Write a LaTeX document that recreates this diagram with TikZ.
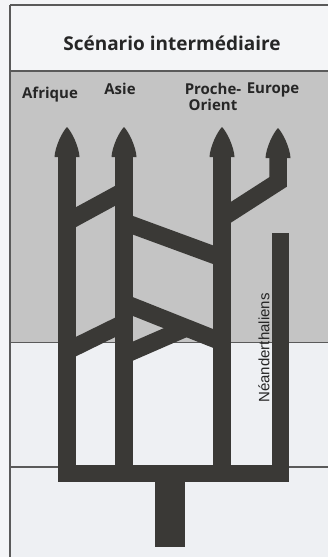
\documentclass[tikz,border=0pt]{standalone}
\usepackage{fontspec}
\setmainfont{Open Sans}
\newfontfamily\sidefont{Liberation Sans}
\usepackage{tikz}
\usetikzlibrary{positioning}
\definecolor{paper}{HTML}{F4F5F7}
\definecolor{speckle}{HTML}{C4C4C4}
\definecolor{lowfield}{HTML}{EEF0F3}
\definecolor{trunk}{HTML}{3A3936}
\definecolor{rule}{HTML}{5A5A5A}
\tikzset{
  lineage/.style={draw=trunk, line width=17.5pt, line cap=butt, line join=miter},
  framerule/.style={draw=rule, line width=1.3pt},
  headline/.style={font=\bfseries\fontsize{19}{22}\selectfont, text=black!85, inner sep=0pt},
  place/.style={font=\bfseries\fontsize{15}{16}\selectfont, text=black!85, inner sep=0pt, align=center},
  sidetag/.style={font=\sidefont\fontsize{15}{15}\selectfont, text=black!85, inner sep=0pt, rotate=90},
  head/.pic={
    \fill[trunk] (-12.5,0) .. controls (-12,-10) and (-5,-25) .. (0,-30)
                 .. controls (5,-25) and (12,-10) .. (12.5,0) -- cycle;
  }
}

\begin{document}
\begin{tikzpicture}[x=1pt,y=-1pt]
  \useasboundingbox[fill=paper] (0,0) rectangle (328,557);

  % background bands
  \fill[speckle]  (10,71)  rectangle (328,342);
  \fill[lowfield] (10,342) rectangle (328,557);
  \draw[framerule] (10,5) -- (328,5);
  \draw[framerule] (10,5) -- (10,557);
  \draw[framerule, line width=2pt] (10,71) -- (328,71);
  \draw[framerule, line width=0.8pt] (10,342) -- (328,342);
  \draw[framerule] (10,467) -- (328,467);

  \node[headline] (title) at (172,43) {Scénario intermédiaire};

  % column positions
  \coordinate (afr) at (67,157);
  \coordinate (asi) at (124,157);
  \coordinate (pro) at (222,157);
  \coordinate (eur) at (278,158);
  \coordinate (nea) at (280.5,233);

  % trunk, base bar and Neanderthal line
  \fill[trunk] (155,480) rectangle (185,547);
  \draw[lineage] (afr) -- (67,473.5) -- (280.5,473.5) -- (nea);
  \draw[lineage] (asi) -- (124,473.5);
  \draw[lineage] (pro) -- (222,473.5);
  \draw[lineage] (eur) -- (278,182) -- (222,218);

  % exchanges between lines
  \draw[lineage] (67,222) -- (124,191);
  \draw[lineage] (124,222) -- (222,258);
  \draw[lineage] (67,351) -- (124,323);
  \draw[lineage] (124,303) -- (222,342);
  \draw[lineage] (124,355) -- (186,328);

  % arrow heads
  \pic at (afr) {head};
  \pic at (asi) {head};
  \pic at (pro) {head};
  \pic at (eur) {head};

  % ---- labels ----
  \node[place] (afrique) at (50,95)  {Afrique};
  \node[place] (asie)    at (120,89) {Asie};
  \node[place] (proche)  at (213,97) {Proche-\\Orient};
  \node[place] (europe)  at (273,90) {Europe};
  \node[sidetag] (neand) at (264,348) {Néanderthaliens};
\end{tikzpicture}
\end{document}
